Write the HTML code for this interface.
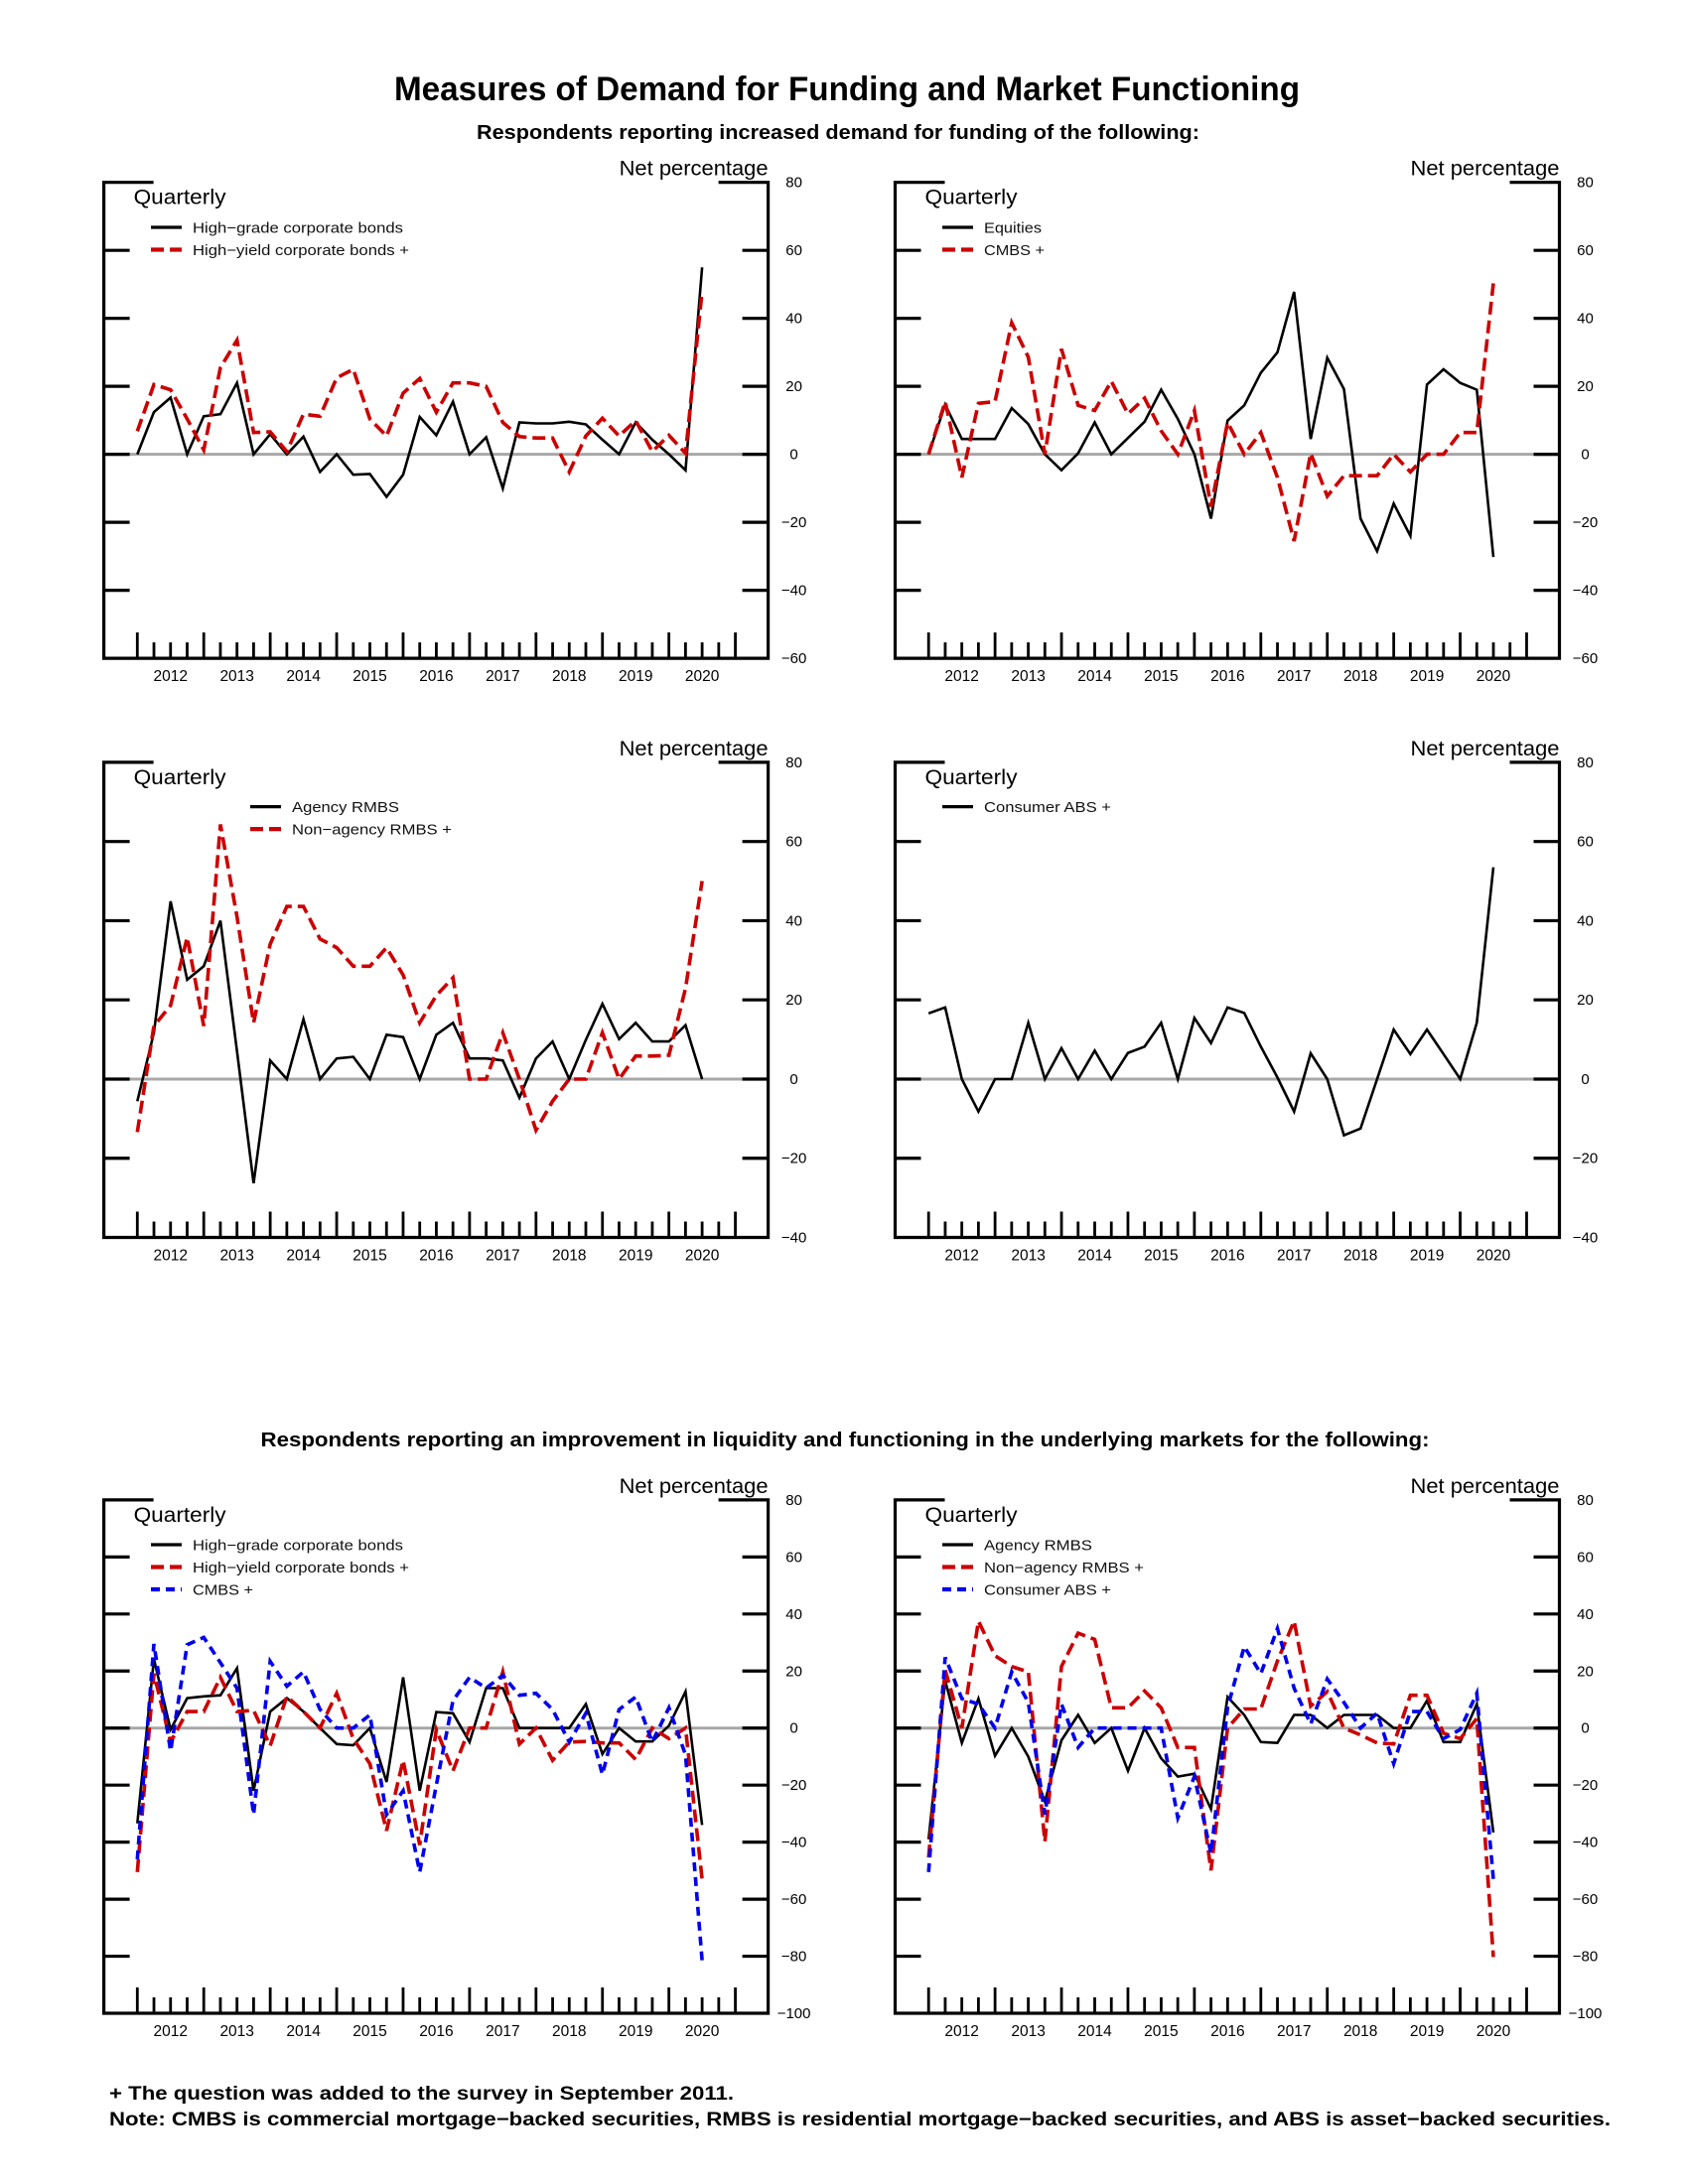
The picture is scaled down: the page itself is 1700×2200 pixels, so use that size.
<!DOCTYPE html>
<html><head><meta charset="utf-8">
<style>
html,body{margin:0;padding:0;background:#fff;}
svg{display:block;}
text{font-family:"Liberation Sans",Arial,sans-serif;}
</style></head>
<body>
<svg id="chart" width="1700" height="2200" viewBox="0 0 1700 2200" xmlns="http://www.w3.org/2000/svg">
<rect x="0" y="0" width="1700" height="2200" fill="#fff"/>
<text x="853" y="101" text-anchor="middle" font-size="34" font-weight="bold" textLength="912" lengthAdjust="spacingAndGlyphs">Measures of Demand for Funding and Market Functioning</text>
<text x="844" y="140" text-anchor="middle" font-size="20" font-weight="bold" textLength="728" lengthAdjust="spacingAndGlyphs">Respondents reporting increased demand for funding of the following:</text>
<text x="851" y="1457" text-anchor="middle" font-size="20" font-weight="bold" textLength="1177" lengthAdjust="spacingAndGlyphs">Respondents reporting an improvement in liquidity and functioning in the underlying markets for the following:</text>
<text x="110" y="2115" font-size="19" font-weight="bold" textLength="629" lengthAdjust="spacingAndGlyphs">+ The question was added to the survey in September 2011.</text>
<text x="110" y="2141" font-size="19" font-weight="bold" textLength="1512" lengthAdjust="spacingAndGlyphs">Note: CMBS is commercial mortgage−backed securities, RMBS is residential mortgage−backed securities, and ABS is asset−backed securities.</text>
</svg>
<script>
// ---------- Data (quarterly, net percentage) ----------
const years = ["2012","2013","2014","2015","2016","2017","2018","2019","2020"];
const yTicksA = [80,60,40,20,0,-20,-40,-60];
const yTicksB = [80,60,40,20,0,-20,-40];
const yTicksC = [80,60,40,20,0,-20,-40,-60,-80,-100];

const demHighGrade = [0,12.4,16.7,0,11.2,11.8,21,0,5.9,0,5.2,-5.2,0,-6,-5.8,-12.5,-6,11,5.6,15.5,0,5,-10,9.4,9.1,9.1,9.6,8.8,4.3,0,9.4,4.3,0,-4.7,55];
const demHighYield = [6.8,20.5,19,10.4,1.3,25.5,33.6,6.4,6.6,0.8,11.8,11.2,22.5,25,10.4,5.4,18,22.3,12.4,21,21,20,9.4,5.2,4.8,4.8,-5.2,5.4,10.6,5.4,9.9,0.8,5.6,0.3,48];
const demEquities = [0,14.6,4.5,4.5,4.5,13.6,8.9,0,-4.7,0.3,9.4,0,4.8,9.6,19,10.4,0,-18.9,9.9,14.4,24,30,47.8,4.5,28.4,19.2,-18.9,-28.5,-14.5,-24,20.5,25,21,19,-30.2];
const demCMBS = [0,15.5,-6.8,15,15.5,38.7,28.6,0,31,14.4,12.9,21.5,11.9,16.5,6.9,0,12.9,-15.4,9.4,0,6.4,-6.8,-25.5,0.3,-12.3,-6.3,-6.3,-6.3,0,-5.2,0,0,6.4,6.4,50.3];
const demAgencyRMBS = [-5.6,11.7,44.9,25.1,28.5,40,7,-26.3,4.7,0,15.1,0,5.2,5.6,0,11.2,10.6,0,11.2,14.2,5.2,5.2,4.7,-4.7,5.2,9.5,0,9.9,19,10.1,14.2,9.5,9.5,13.6,0];
const demNonAgencyRMBS = [-13.4,13.4,18.6,35.8,13.4,64.3,41,14.2,34.1,43.6,43.6,35.4,33.2,28.5,28.5,33.2,26.3,14.2,21.1,25.6,0,0,11.7,0,-12.9,-5.6,0,0,11.7,0,5.8,5.8,6,22.9,50];
const demConsumerABS = [16.6,18.1,0,-8.2,0,0,14.2,0,7.8,0,7.2,0,6.6,8.2,14.2,0,15.4,9.1,18.1,16.7,8.2,0.4,-8.2,6.5,0,-14.2,-12.5,0,12.5,6.3,12.5,6.3,0,14.2,53.5];

const liqHighGrade = [-33.4,24.2,-0.5,10.5,11.1,11.5,21,-22,5.8,10.5,5.8,0,-5.6,-6,0,-18.9,17.8,-22,5.6,5.2,-4.9,14,14,0,0,0,0,8.4,-9.1,0,-4.7,-4.7,0.8,12.8,-34];
const liqHighYield = [-50.5,19.1,-4.9,5.8,5.8,17.8,5.8,6.2,-6.2,11.1,5.8,0,12.2,-3.7,-12.5,-36,-11.3,-41,-0.5,-15,0,0,19.7,-5.6,0,-11.3,-4.9,-4.7,-5.2,-5.2,-11,0,-3.7,0,-53];
const liqCMBS = [-46,29.5,-8.1,29.2,31.8,22.9,14,-30.3,23.4,14.7,19.7,6.5,0,0,4.6,-30.3,-22,-50.5,-20,9.6,17.8,14,18.5,11.5,12.2,6.5,-4.9,5.2,-16.3,6.5,10.9,-4.9,7.1,-9.4,-81.5];
const liqAgencyRMBS = [-39,16.6,-5.2,10.3,-9.7,0,-10,-25.8,-4.3,4.6,-5.2,0,-15,0,-10.6,-17,-16,-28.4,10.9,4.6,-4.9,-5.2,4.6,4.6,0,4.6,4.6,4.6,0,0,9.6,-4.9,-4.9,8.4,-36.6];
const liqNonAgencyRMBS = [-45.4,20.4,0,37.5,25.4,21.6,19.7,-39.8,21.6,33.3,31.1,7.1,7.1,13,7.1,-6.8,-6.8,-49.9,0,6.7,6.7,23.5,37.5,7.7,12.8,0,-2.4,-5.2,-5.6,11.5,11.5,-1.8,-3.7,3.3,-80.3];
const liqConsumerABS = [-50.5,24.8,10.3,8.4,0,19.7,9,-30.3,8.4,-6.8,0,0,0,0,0,-31.5,-17,-44,7.1,28.6,19.1,34.9,14,1.4,17.2,9,0,5.2,-12.5,5.8,5.8,-3.7,-0.5,12.2,-53];

// ---------- Drawing ----------
const NS = "http://www.w3.org/2000/svg";
const svg = document.getElementById("chart");
function mk(tag, attrs, parent){
  const e = document.createElementNS(NS, tag);
  for (const k in attrs) e.setAttribute(k, attrs[k]);
  (parent || svg).appendChild(e);
  return e;
}
const RED = "#cc0000", BLUE = "#0000ee", BLACK = "#000";
const styles = {
  solid: {stroke: BLACK, w: 2.6, dash: null},
  red: {stroke: RED, w: 3.6, dash: "13,6"},
  blue: {stroke: BLUE, w: 3.6, dash: "9,6"}
};

function panel(cfg){
  const g = mk("g", {});
  
  
  const L = cfg.left, R = cfg.left + 669, T = cfg.top, B = cfg.bottom;
  const x0 = L + 33.7, dq = 16.73;
  const xq = i => x0 + i * dq;
  const yv = v => T + (cfg.ymax - v) / (cfg.ymax - cfg.ymin) * (B - T);

  const z = mk("line", {x1: L, x2: R, y1: yv(0), y2: yv(0), stroke: "#a8a8a8", "stroke-width": 3}, g);
  
  

  const frame = mk("path", {d: `M${L+50},${T} L${L},${T} L${L},${B} L${R},${B} L${R},${T} L${R-50},${T}`, fill: "none", stroke: BLACK, "stroke-width": 3.2}, g);
  
  

  cfg.ticks.forEach(v => {
    const y = yv(v);
    if (v !== cfg.ymax && v !== cfg.ymin) {
      mk("line", {x1: L, x2: L + 26, y1: y, y2: y, stroke: BLACK, "stroke-width": 3.2}, g);
      mk("line", {x1: R - 26, x2: R, y1: y, y2: y, stroke: BLACK, "stroke-width": 3.2}, g);
    }
    const t = mk("text", {x: R + 26, y: y + 5, "text-anchor": "middle", "font-size": 15}, g);
    
    
    t.textContent = (v < 0 ? "\u2212" + Math.abs(v) : String(v));
  });

  for (let i = 0; i <= 36; i++) {
    const long = (i % 4 === 0);
    mk("line", {x1: xq(i), x2: xq(i), y1: B, y2: B - (long ? 26 : 16), stroke: BLACK, "stroke-width": 2.8}, g);
  }
  years.forEach((yr, k) => {
    const t = mk("text", {x: xq(k * 4 + 2), y: B + 23, "text-anchor": "middle", "font-size": 15.5}, g);
    
    
    t.textContent = yr;
  });

  const np = mk("text", {x: R, y: T - 7, "text-anchor": "end", "font-size": 21, textLength: 150, lengthAdjust: "spacingAndGlyphs"}, g);
  
  
  np.textContent = "Net percentage";
  const q = mk("text", {x: L + 30, y: T + 22, "font-size": 21, textLength: 93, lengthAdjust: "spacingAndGlyphs"}, g);
  
  
  q.textContent = "Quarterly";

  cfg.series.forEach((s, si) => {
    const st = styles[s.style];
    const pts = s.data.map((v, i) => xq(i).toFixed(1) + "," + yv(v).toFixed(1)).join(" ");
    const a = {points: pts, fill: "none", stroke: st.stroke, "stroke-width": st.w, "stroke-linejoin": "miter"};
    if (st.dash) a["stroke-dasharray"] = st.dash;
    const pl = mk("polyline", a, g);
    
    

    const ly = cfg.legendY + si * 22.5;
    const la = {x1: cfg.legendX, x2: cfg.legendX + 31, y1: ly, y2: ly, stroke: st.stroke, "stroke-width": st.w + 0.6};
    if (st.dash) la["stroke-dasharray"] = st.dash;
    const ln = mk("line", la, g);
    
    
    const lt = mk("text", {x: cfg.legendX + 42, y: ly + 5.5, "font-size": 15, textLength: s.lw, lengthAdjust: "spacingAndGlyphs", fill: "#111"}, g);
    
    
    lt.textContent = s.label;
  });
}

const LX = 104.6, RX = 901.5;
panel({name: "panel-corporate-bond-demand", left: LX, top: 183.7, bottom: 663.1, ymax: 80, ymin: -60, ticks: yTicksA, legendX: 152, legendY: 229,
  series: [{key: "high-grade", label: "High\u2212grade corporate bonds", data: demHighGrade, style: "solid", lw: 212},
           {key: "high-yield", label: "High\u2212yield corporate bonds +", data: demHighYield, style: "red", lw: 218}]});
panel({name: "panel-equities-cmbs-demand", left: RX, top: 183.7, bottom: 663.1, ymax: 80, ymin: -60, ticks: yTicksA, legendX: 949, legendY: 229,
  series: [{key: "equities", label: "Equities", data: demEquities, style: "solid", lw: 58},
           {key: "cmbs", label: "CMBS +", data: demCMBS, style: "red", lw: 61}]});
panel({name: "panel-rmbs-demand", left: LX, top: 767.9, bottom: 1246.5, ymax: 80, ymin: -40, ticks: yTicksB, legendX: 252, legendY: 812.6,
  series: [{key: "agency-rmbs", label: "Agency RMBS", data: demAgencyRMBS, style: "solid", lw: 108},
           {key: "non-agency-rmbs", label: "Non\u2212agency RMBS +", data: demNonAgencyRMBS, style: "red", lw: 161}]});
panel({name: "panel-consumer-abs-demand", left: RX, top: 767.9, bottom: 1246.5, ymax: 80, ymin: -40, ticks: yTicksB, legendX: 949, legendY: 812.6,
  series: [{key: "consumer-abs", label: "Consumer ABS +", data: demConsumerABS, style: "solid", lw: 128}]});
panel({name: "panel-corporate-liquidity", left: LX, top: 1510.9, bottom: 2028, ymax: 80, ymin: -100, ticks: yTicksC, legendX: 152, legendY: 1556,
  series: [{key: "liq-high-grade", label: "High\u2212grade corporate bonds", data: liqHighGrade, style: "solid", lw: 212},
           {key: "liq-high-yield", label: "High\u2212yield corporate bonds +", data: liqHighYield, style: "red", lw: 218},
           {key: "liq-cmbs", label: "CMBS +", data: liqCMBS, style: "blue", lw: 61}]});
panel({name: "panel-securitized-liquidity", left: RX, top: 1510.9, bottom: 2028, ymax: 80, ymin: -100, ticks: yTicksC, legendX: 949, legendY: 1556,
  series: [{key: "liq-agency-rmbs", label: "Agency RMBS", data: liqAgencyRMBS, style: "solid", lw: 109},
           {key: "liq-non-agency-rmbs", label: "Non\u2212agency RMBS +", data: liqNonAgencyRMBS, style: "red", lw: 161},
           {key: "liq-consumer-abs", label: "Consumer ABS +", data: liqConsumerABS, style: "blue", lw: 128}]});
</script>
</body></html>
